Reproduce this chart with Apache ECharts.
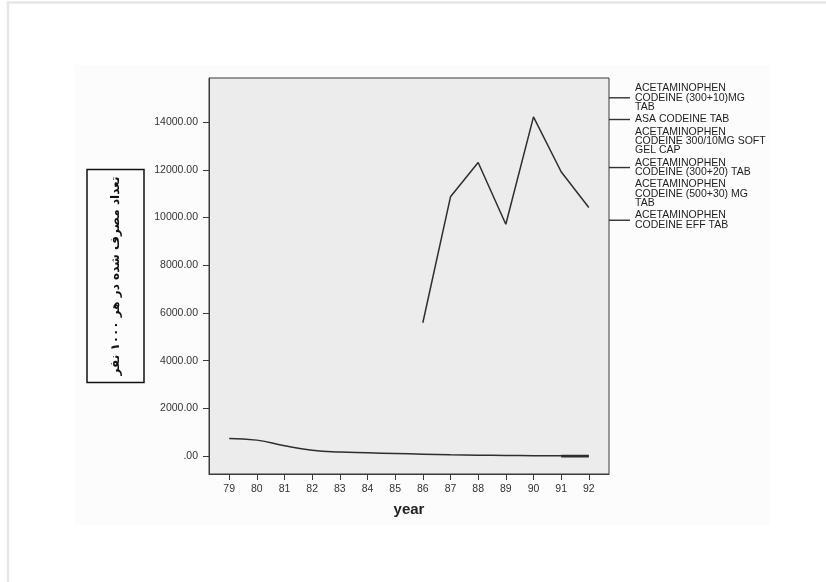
<!DOCTYPE html>
<html>
<head>
<meta charset="utf-8">
<script src="https://cdn.jsdelivr.net/npm/echarts@6/dist/echarts.min.js"></script>
<style>
html,body{margin:0;padding:0;background:#fff;}
#main{width:826px;height:582px;}
</style>
</head>
<body>
<div id="main"></div>
<script>
// ---- data ----
var years = [79, 80, 81, 82, 83, 84, 85, 86, 87, 88, 89, 90, 91, 92];
var yTicks = [0, 2000, 4000, 6000, 8000, 10000, 12000, 14000];
var seriesNames = [
  'ACETAMINOPHEN\nCODEINE (300+10)MG\nTAB',
  'ASA CODEINE TAB',
  'ACETAMINOPHEN\nCODEINE 300/10MG SOFT\nGEL CAP',
  'ACETAMINOPHEN\nCODEINE (300+20) TAB',
  'ACETAMINOPHEN\nCODEINE (500+30) MG\nTAB',
  'ACETAMINOPHEN\nCODEINE EFF TAB'
];
var vals300_10 = [740, 670, 430, 250, 170, 140, 110, 80, 55, 40, 30, 15, 10, 5];
var valsASA = [null, null, null, null, null, null, null, null, null, null, null, null, null, null];
var valsSoftGel = [null, null, null, null, null, null, null, null, null, null, null, null, null, null];
var vals300_20 = [null, null, null, null, null, null, null, 5590, 10870, 12310, 9720, 14220, 11920, 10420];
var vals500_30 = [null, null, null, null, null, null, null, null, null, null, null, null, null, null];
var valsEff = [null, null, null, null, null, null, null, null, null, null, null, null, 0, 0];
var yAxisTitle = 'تعداد مصرف شده در هر ۱۰۰۰ نفر';
var xAxisTitle = 'year';

function pairs(arr) {
  return years.map(function (y, i) { return [y, arr[i]]; });
}

var chart = echarts.init(document.getElementById('main'), null, {renderer: 'canvas'});
var lineColor = '#2e2e2e';
var allVals = [vals300_10, valsASA, valsSoftGel, vals300_20, vals500_30, valsEff];
var series = allVals.map(function (arr, i) {
  return {
    name: seriesNames[i],
    type: 'line',
    data: pairs(arr),
    smooth: i === 0 ? 0.5 : false,
    showSymbol: false,
    symbol: 'none',
    connectNulls: false,
    lineStyle: {color: lineColor, width: i === 5 ? 2.8 : 1.5},
    itemStyle: {color: lineColor},
    z: 3
  };
});

var legendData = seriesNames.map(function (n, i) {
  var hidden = (i === 2 || i === 4);
  return {name: n, itemStyle: {color: hidden ? 'rgba(0,0,0,0)' : '#333', opacity: hidden ? 0 : 1}};
});

chart.setOption({
  animation: false,
  backgroundColor: '#ffffff',
  graphic: [
    {type: 'rect', shape: {x: 8, y: 2.5, width: 900, height: 700}, style: {fill: 'none', stroke: '#e6e6e6', lineWidth: 2.5}, silent: true, z: -10},
    {type: 'rect', shape: {x: 75, y: 65, width: 695, height: 460}, style: {fill: '#fcfcfc'}, silent: true, z: -20}
  ],
  grid: {
    left: 209, top: 78, width: 400, height: 396,
    show: true, backgroundColor: '#ececec', borderColor: '#3a3a3a', borderWidth: 1
  },
  legend: {
    orient: 'vertical',
    left: 609, top: 83,
    padding: 0,
    itemGap: 1.4,
    itemWidth: 21,
    itemHeight: 1.4,
    icon: 'rect',
    selectedMode: false,
    textStyle: {fontFamily: 'Liberation Sans', fontSize: 10.5, lineHeight: 9.3, color: '#1e1e1e'},
    data: legendData
  },
  xAxis: {
    type: 'value',
    min: 78.27, max: 92.73,
    name: xAxisTitle,
    nameLocation: 'middle',
    nameGap: 28,
    nameTextStyle: {fontFamily: 'Liberation Sans', fontSize: 15, fontWeight: 'bold', color: '#222'},
    axisLine: {show: true, onZero: false, lineStyle: {color: '#3a3a3a', width: 1}},
    axisTick: {show: true, length: 6, customValues: years, lineStyle: {color: '#3a3a3a'}},
    axisLabel: {customValues: years, margin: 10, fontFamily: 'Liberation Sans', fontSize: 10.5, color: '#333',
      formatter: function (v) { return String(Math.round(v)); }},
    splitLine: {show: false}
  },
  yAxis: {
    type: 'value',
    min: -750, max: 15850,
    name: yAxisTitle,
    nameLocation: 'middle',
    nameRotate: 90,
    nameGap: 65,
    nameTextStyle: {
      fontFamily: 'DejaVu Sans', fontSize: 12, fontWeight: 'bold', color: '#111',
      borderColor: '#111', borderWidth: 1.5, padding: [20, 7, 20, 7], lineHeight: 17
    },
    axisLine: {show: true, onZero: false, lineStyle: {color: '#3a3a3a', width: 1}},
    axisTick: {show: true, length: 6, customValues: yTicks, lineStyle: {color: '#3a3a3a'}},
    axisLabel: {customValues: yTicks, margin: 11, fontFamily: 'Liberation Sans', fontSize: 10.5, color: '#333',
      formatter: function (v) { return v === 0 ? '.00' : v.toFixed(2); }},
    splitLine: {show: false}
  },
  series: series
});
</script>
</body>
</html>
